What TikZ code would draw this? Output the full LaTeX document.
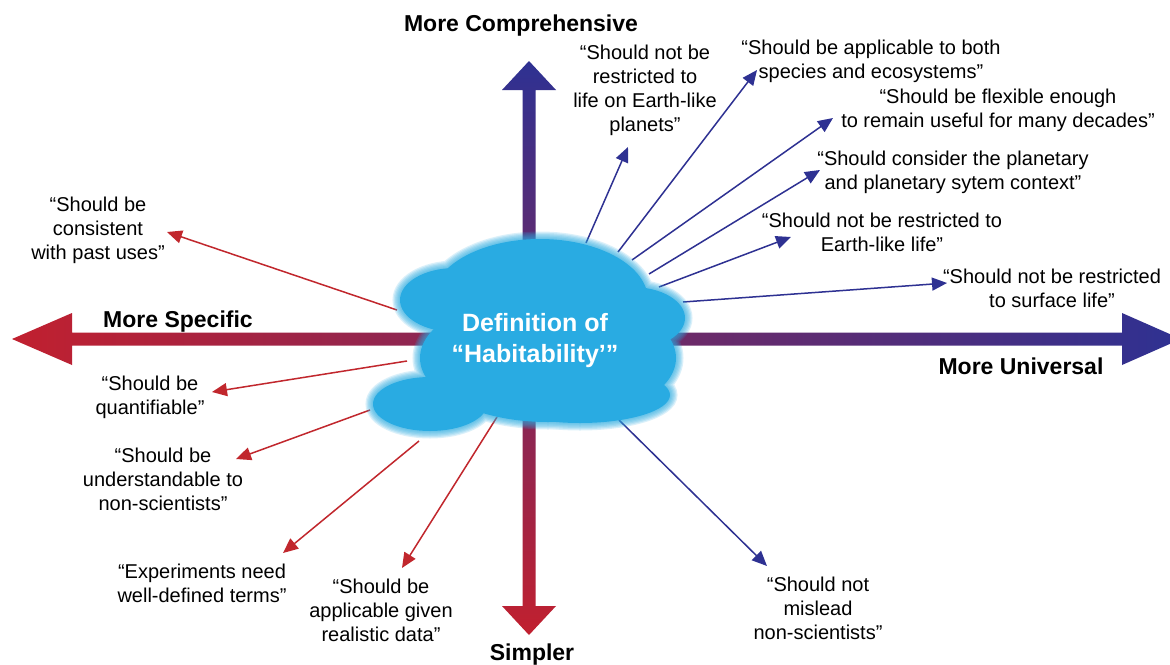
\documentclass[tikz,border=0pt]{standalone}
\usepackage{fontspec}
\setmainfont{Liberation Sans}
\usetikzlibrary{arrows.meta}
\definecolor{axred}{HTML}{C1202F}
\definecolor{axblue}{HTML}{2E3192}
\definecolor{linered}{HTML}{C1272D}
\definecolor{lineblue}{HTML}{2E3192}
\definecolor{cloudblue}{HTML}{29ABE2}
\newcommand\habcloud[1]{%
  \foreach \cx/\cy/\rx/\ry in {540/300/108/61, 455/300/55/32, 632/318/53/31,
      548/358/128/64, 580/395/90/28, 430/404/57/27}
    {\path[#1] (\cx,\cy) ellipse [x radius=\rx, y radius=\ry];}}
\begin{document}
\begin{tikzpicture}[x=1pt,y=-1pt,
  quote/.style={align=center, inner sep=0pt, font=\fontsize{20}{24}\selectfont},
  axislabel/.style={inner sep=0pt, anchor=base, font=\fontsize{23}{27}\selectfont\bfseries},
  cloudtext/.style={align=center, inner sep=0pt, text=white, font=\fontsize{25}{31}\selectfont\bfseries},
  bluelink/.style={draw=lineblue, line width=1.5pt, -{Triangle[length=15pt,width=13pt]}},
  redlink/.style={draw=linered, line width=1.5pt, -{Triangle[length=15pt,width=13pt]}}]
\useasboundingbox (0,0) rectangle (1170,664);
\fill[white] (0,0) rectangle (1170,664);
% axes
\shade[left color=axred, right color=axblue]
  (12,339) -- (72,313) -- (72,332.5) -- (1122,332.5) -- (1122,313) -- (1181,339)
  -- (1122,365) -- (1122,345.5) -- (72,345.5) -- (72,365) -- cycle;
\shade[top color=axblue, bottom color=axred]
  (529,61) -- (556,90) -- (535.5,90) -- (535.5,606) -- (556,606) -- (529,635)
  -- (502,606) -- (522.5,606) -- (522.5,90) -- (502,90) -- cycle;
% connector coordinates
\coordinate (b1s) at (586,243); \coordinate (b1e) at (628,147);
\coordinate (b2s) at (618,252); \coordinate (b2e) at (757,70);
\coordinate (b3s) at (632,260); \coordinate (b3e) at (833,118);
\coordinate (b4s) at (649,274); \coordinate (b4e) at (820,170);
\coordinate (b5s) at (659,287); \coordinate (b5e) at (791,237);
\coordinate (b6s) at (683,302); \coordinate (b6e) at (947,283);
\coordinate (b7s) at (619,420); \coordinate (b7e) at (767,566);
\coordinate (r1s) at (397,310); \coordinate (r1e) at (167,232);
\coordinate (r2s) at (407,361); \coordinate (r2e) at (212,392);
\coordinate (r3s) at (370,410); \coordinate (r3e) at (236,459);
\coordinate (r4s) at (419,441); \coordinate (r4e) at (283,553);
\coordinate (r5s) at (497,417); \coordinate (r5e) at (402,568);
\foreach \i in {1,...,7} {\draw[bluelink] (b\i s) -- (b\i e);}
\foreach \i in {1,...,5} {\draw[redlink] (r\i s) -- (r\i e);}
% cloud with soft edge
\foreach \w in {15,12.5,10,7.5,5,2.5}{
  \begin{scope}[transparency group, opacity=0.17]
    \habcloud{fill=cloudblue, draw=cloudblue, line width=\w pt}
  \end{scope}}
\habcloud{fill=cloudblue}
\node[cloudtext] (cloud) at (535,341) {Definition of\\“Habitability’”};
% axis labels
\node[axislabel] (top) at (521,31) {More Comprehensive};
\node[axislabel] (left) at (178,327) {More Specific};
\node[axislabel] (right) at (1021,374) {More Universal};
\node[axislabel] (bottom) at (532,660) {Simpler};
% quotes
\node[quote] (q1) at (645,90.5) {“Should not be\\restricted to\\life on Earth-like\\planets”};
\node[quote] (q2) at (871,61.5) {“Should be applicable to both\\species and ecosystems”};
\node[quote] (q3) at (998,110.5) {“Should be flexible enough\\to remain useful for many decades”};
\node[quote] (q4) at (953,172.5) {“Should consider the planetary\\and planetary sytem context”};
\node[quote] (q5) at (882,232.5) {“Should not be restricted to\\Earth-like life”};
\node[quote] (q6) at (1052,288.5) {“Should not be restricted\\to surface life”};
\node[quote] (q7) at (818,608.5) {“Should not\\mislead\\non-scientists”};
\node[quote] (q8) at (98,230.5) {“Should be\\consistent\\with past uses”};
\node[quote] (q9) at (150,397.5) {“Should be\\quantifiable”};
\node[quote] (q10) at (163,479.5) {“Should be\\understandable to\\non-scientists”};
\node[quote] (q11) at (202,583.5) {“Experiments need\\well-defined terms”};
\node[quote] (q12) at (381,610.5) {“Should be\\applicable given\\realistic data”};
\end{tikzpicture}
\end{document}
